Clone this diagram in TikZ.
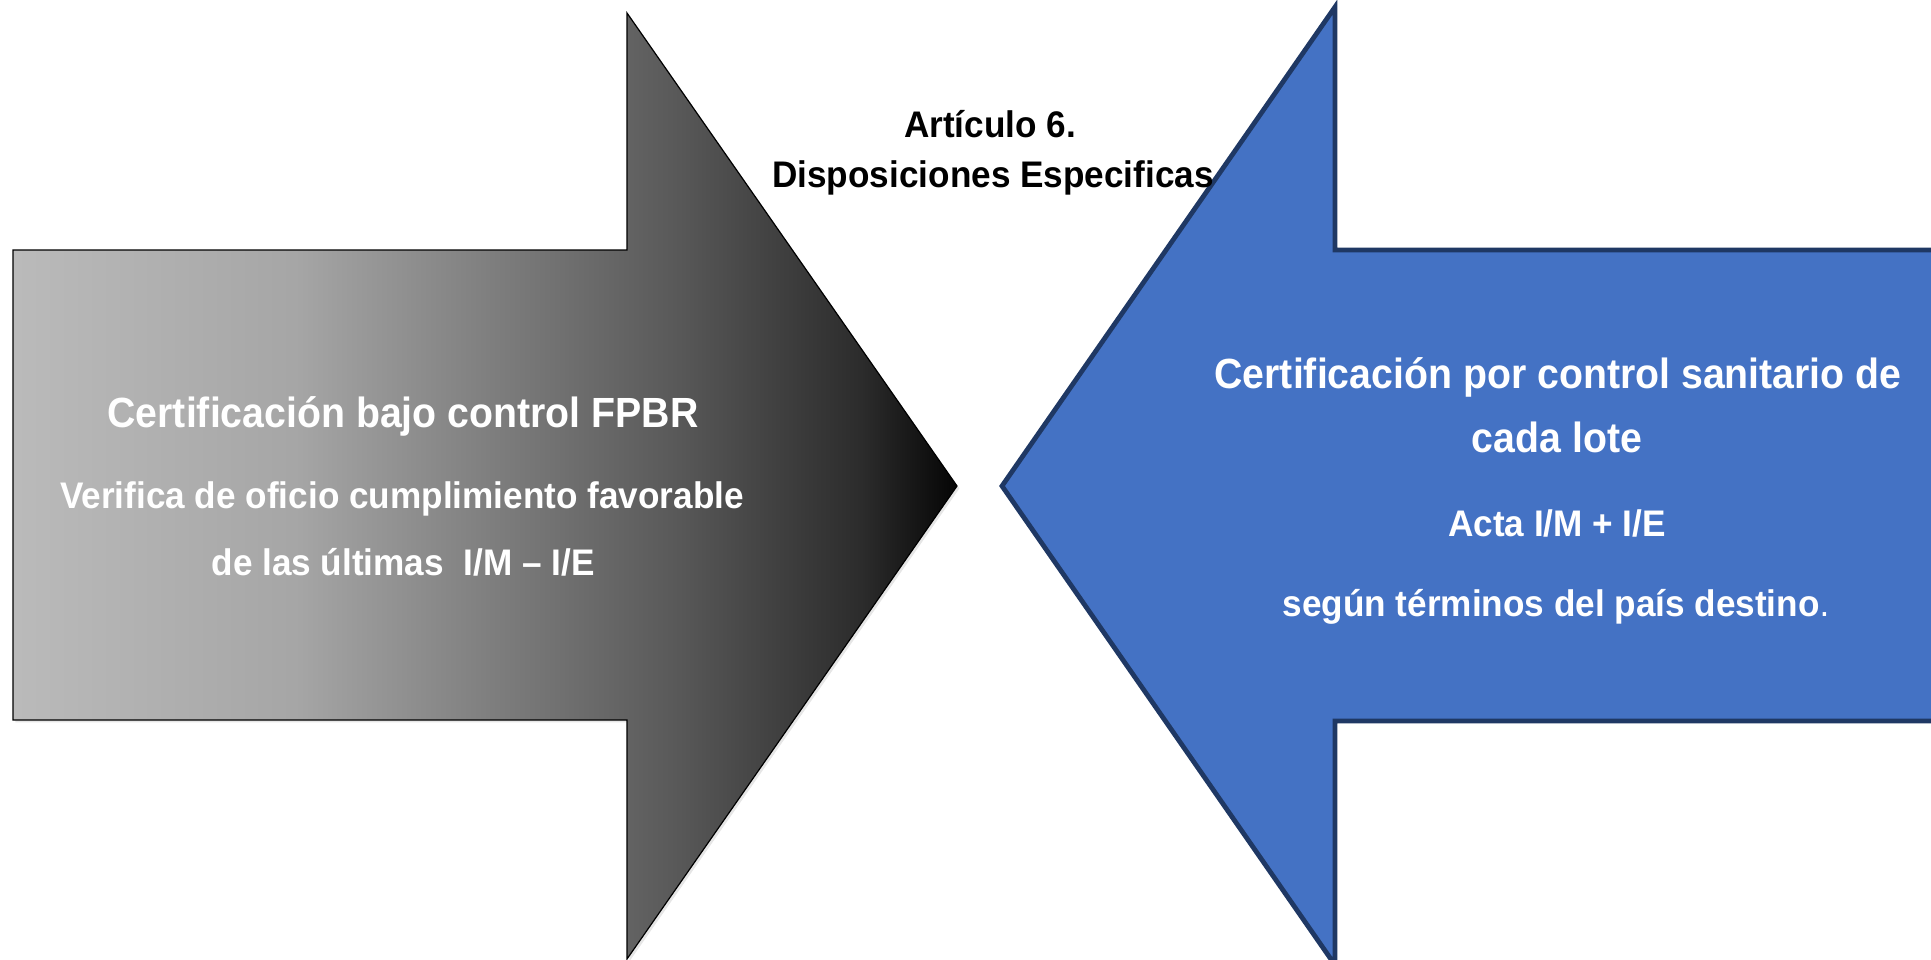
\documentclass[tikz,border=0pt]{standalone}
\usepackage{fontspec}
\usepackage{xcolor}
\usepackage{tikz}
\usetikzlibrary{positioning,shadows}
\newfontfamily\rotulo{Liberation Sans}[FakeStretch=0.93]
\newfontfamily\rotulochico{Liberation Sans}[FakeStretch=0.95]

\definecolor{azulflecha}{HTML}{4472C4}
\definecolor{azulborde}{HTML}{1F3864}
\definecolor{grisA}{gray}{0.73}
\definecolor{grisB}{gray}{0.65}
\definecolor{grisC}{gray}{0.50}
\definecolor{grisD}{gray}{0.35}
\definecolor{grisE}{gray}{0.17}
\definecolor{grisF}{gray}{0.02}
\pgfdeclarehorizontalshading{flechagris}{100bp}{color(0bp)=(grisA); color(25bp)=(grisA); color(40bp)=(grisB); color(50bp)=(grisC); color(60bp)=(grisD); color(70bp)=(grisE); color(75bp)=(grisF); color(100bp)=(grisF)}

\begin{document}
\begin{tikzpicture}[x=0.5pt,y=-0.5pt,
    grande/.style={anchor=base, inner sep=0pt, text=white, font=\rotulo\bfseries\fontsize{21.1}{25}\selectfont},
    chico/.style={anchor=base, inner sep=0pt, text=white, font=\rotulochico\bfseries\fontsize{18.5}{22}\selectfont},
    titulo/.style={chico, text=black}]
    \useasboundingbox (0,0) rectangle (1931,959);

    % Flecha izquierda (gris)
    \draw[black, line width=0.6pt, shading=flechagris,
          drop shadow={shadow xshift=1.2pt, shadow yshift=-1.2pt, opacity=0.2}]
        (13,250) -- (627,250) -- (627,13) -- (957,486) -- (627,959) -- (627,720) -- (13,720) -- cycle;

    % Flecha derecha (azul)
    \draw[azulborde, line width=2.4pt, fill=azulflecha, line join=miter]
        (1002,486) -- (1335,7) -- (1335,250) -- (1945,250) -- (1945,721) -- (1335,721) -- (1335,965) -- cycle;

    \node[titulo] (art) at (990,137) {Artículo 6.};
    \node[titulo] (disp) at (993,187) {Disposiciones Especificas};

    \node[grande] (izq1) at (403,427) {Certificación bajo control FPBR};
    \node[chico] (izq2) at (402,508) {Verifica de oficio cumplimiento favorable};
    \node[chico] (izq3) at (403,575) {de las últimas\ \ I/M – I/E};

    \node[grande] (der1) at (1558,388) {Certificación por control sanitario de};
    \node[grande] (der2) at (1557,452) {cada lote};
    \node[chico] (der3) at (1557,536) {Acta I/M + I/E};
    \node[chico] (der4) at (1556,616) {según términos del país destino{\mdseries .}};
\end{tikzpicture}
\end{document}
